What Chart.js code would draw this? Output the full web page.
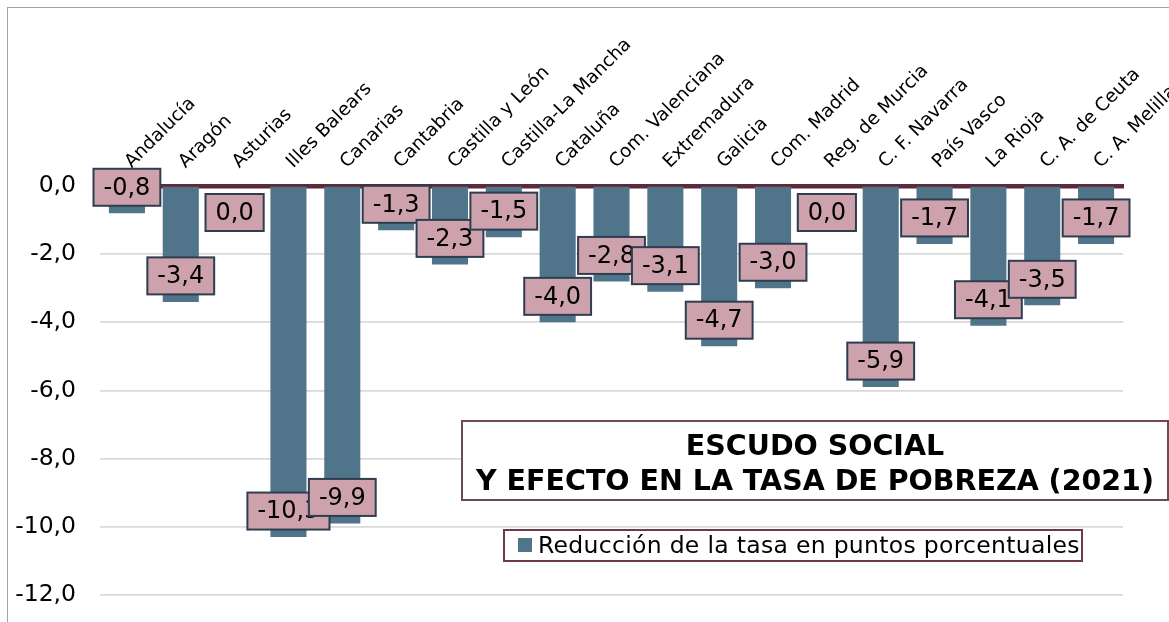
<!DOCTYPE html>
<html>
<head>
<meta charset="utf-8">
<script src="https://cdn.jsdelivr.net/npm/chart.js@4.4.0/dist/chart.umd.min.js"></script>
<style>
  html, body { margin: 0; padding: 0; background: #fff; overflow: hidden; }
  #marco { position: absolute; left: 7px; top: 7px; width: 1300px; height: 800px;
           border-left: 1.5px solid #a3a3a3; border-top: 1.5px solid #a3a3a3; }
  #caja { position: absolute; left: 0; top: 0; width: 1169px; height: 622px; }
</style>
</head>
<body>
<div id="marco"></div>
<div id="caja"><canvas id="pobreza"></canvas></div>
<script>
const regiones = ["Andalucía", "Aragón", "Asturias", "Illes Balears", "Canarias",
  "Cantabria", "Castilla y León", "Castilla-La Mancha", "Cataluña", "Com. Valenciana",
  "Extremadura", "Galicia", "Com. Madrid", "Reg. de Murcia", "C. F. Navarra",
  "País Vasco", "La Rioja", "C. A. de Ceuta", "C. A. Melilla"];
const reduccion = [-0.8, -3.4, 0.0, -10.3, -9.9,
  -1.3, -2.3, -1.5, -4.0, -2.8,
  -3.1, -4.7, -3.0, 0.0, -5.9,
  -1.7, -4.1, -3.5, -1.7];
const ejeY = [-12, -10, -8, -6, -4, -2, 0];
const titulo = ["ESCUDO SOCIAL", "Y EFECTO EN LA TASA DE POBREZA (2021)"];
const leyenda = "Reducción de la tasa en puntos porcentuales";

const azul = "#50748a";
const fuente = '"DejaVu Sans", Verdana, sans-serif';

function coma(v) {
  return v.toFixed(1).replace(".", ",");
}

// etiquetas de datos, titulo y leyenda
const extras = {
  id: "extras",
  afterDraw(chart) {
    const ctx = chart.ctx;
    const y0 = chart.scales.y.getPixelForValue(0);
    ctx.save();
    ctx.font = "24px " + fuente;
    ctx.textAlign = "center";
    ctx.textBaseline = "middle";
    chart.getDatasetMeta(0).data.forEach((bar, i) => {
      const v = reduccion[i];
      const txt = coma(v);
      const w = ctx.measureText(txt).width + 20;
      const h = 37;
      const cy = v === 0 ? y0 + 26.5 : bar.y - 26;
      ctx.fillStyle = "#cda2ad";
      ctx.fillRect(bar.x - w / 2, cy - h / 2, w, h);
      ctx.strokeStyle = "#2f3d50";
      ctx.lineWidth = 2;
      ctx.strokeRect(bar.x - w / 2, cy - h / 2, w, h);
      ctx.fillStyle = "#000";
      ctx.fillText(txt, bar.x, cy + 1);
    });

    // titulo
    ctx.fillStyle = "#fff";
    ctx.fillRect(462, 421, 706, 79);
    ctx.strokeStyle = "#6d4a56";
    ctx.lineWidth = 2;
    ctx.strokeRect(462, 421, 706, 79);
    ctx.fillStyle = "#000";
    ctx.font = "bold 28.5px " + fuente;
    ctx.textBaseline = "alphabetic";
    ctx.fillText(titulo[0], 815, 455);
    ctx.fillText(titulo[1], 815, 490);

    // leyenda
    ctx.fillStyle = "#fff";
    ctx.fillRect(504, 530, 578, 31);
    ctx.strokeStyle = "#6d3a4c";
    ctx.lineWidth = 2;
    ctx.strokeRect(504, 530, 578, 31);
    ctx.fillStyle = azul;
    ctx.fillRect(518, 538, 14, 14);
    ctx.fillStyle = "#000";
    ctx.font = "23.5px " + fuente;
    ctx.letterSpacing = "0.3px";
    ctx.textAlign = "left";
    ctx.fillText(leyenda, 538, 553);
    ctx.restore();
  }
};

new Chart(document.getElementById("pobreza"), {
  type: "bar",
  data: {
    labels: regiones,
    datasets: [{
      label: leyenda,
      data: reduccion,
      backgroundColor: azul,
      barPercentage: 0.67,
      categoryPercentage: 1
    }]
  },
  options: {
    responsive: true,
    maintainAspectRatio: false,
    animation: false,
    layout: { padding: { left: 0, right: 46, top: 0, bottom: 27 } },
    plugins: {
      legend: { display: false },
      title: { display: false },
      tooltip: { enabled: false }
    },
    scales: {
      x: {
        position: "top",
        z: 1,
        grid: { display: false, drawTicks: false },
        border: { display: true, color: "#5c2a3a", width: 4.5 },
        ticks: {
          autoSkip: false,
          minRotation: 45,
          maxRotation: 45,
          padding: 13,
          labelOffset: 17,
          color: "#000",
          font: { family: fuente, size: 18.5 }
        },
        afterFit(scale) {
          scale.height = 186;
          scale.paddingLeft = 0;
          scale.paddingRight = 0;
        }
      },
      y: {
        min: ejeY[0],
        max: ejeY[ejeY.length - 1],
        afterBuildTicks(scale) {
          scale.ticks = ejeY.map(v => ({ value: v }));
        },
        grid: {
          drawTicks: false,
          lineWidth: 1.7,
          color: c => c.tick && c.tick.value === 0 ? "rgba(0,0,0,0)" : "#d9d9d9"
        },
        border: { display: false },
        ticks: {
          padding: 24,
          color: "#000",
          font: { family: fuente, size: 23.5 },
          callback: v => coma(v)
        },
        afterFit(scale) {
          scale.width = 100;
          scale.paddingTop = 0;
          scale.paddingBottom = 0;
        }
      }
    }
  },
  plugins: [extras]
});
</script>
</body>
</html>
